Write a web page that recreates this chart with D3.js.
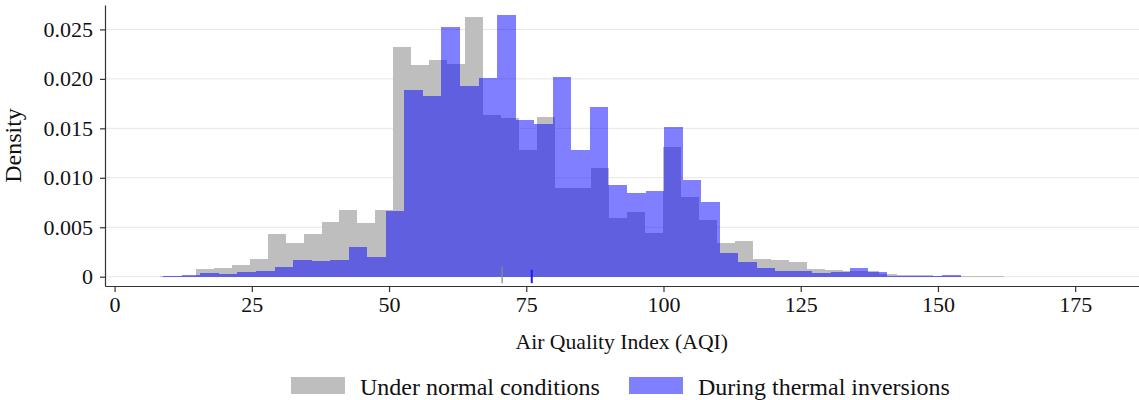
<!DOCTYPE html>
<html>
<head>
<meta charset="utf-8">
<script src="https://cdn.jsdelivr.net/npm/d3@7"></script>
<style>
  html, body { margin: 0; padding: 0; background: #fff; }
  svg { display: block; font-family: "Liberation Serif", "Times New Roman", serif; }
</style>
</head>
<body>
<svg id="chart" width="1139" height="400"></svg>
<script>
// AQI histograms (density scale), each series with its own bin origin and width
const normalStart = 8.23;
const normalWidth = 3.274;
const normalDensity = [
  0.00005, 0.0001, 0.00075, 0.00091, 0.00121, 0.00176, 0.00429, 0.00338, 0.00432, 0.00557,
  0.00675, 0.00547, 0.00672, 0.0232, 0.02142, 0.02186, 0.0215, 0.0263, 0.01636, 0.01603,
  0.01282, 0.01613, 0.00895, 0.0090, 0.01097, 0.0059, 0.00658, 0.00439, 0.0131, 0.0081,
  0.00574, 0.00338, 0.00361, 0.00175, 0.0017, 0.0015, 0.00075, 0.00068, 0.0006, 0.0006,
  0.0003, 0.0002, 0.00015, 0.00012, 0.0001, 0.00007, 0.00005
];

const inversionStart = 8.87;
const inversionWidth = 3.379;
const inversionDensity = [
  0.00007, 0.00014, 0.00034, 0.00024, 0.0005, 0.0006, 0.001, 0.00169, 0.00159, 0.00169,
  0.00297, 0.00202, 0.00665, 0.0189, 0.01822, 0.0252, 0.0193, 0.02004, 0.0265, 0.0158,
  0.01545, 0.0202, 0.0128, 0.0172, 0.00928, 0.0085, 0.0087, 0.01512, 0.00979, 0.00759,
  0.00237, 0.00147, 0.00085, 0.0006, 0.0006, 0.0004, 0.0005, 0.0009, 0.0005, 0.00005,
  0.00005, 0.00008, 0.00014
];

// Sample means, marked on the baseline
const meanNormal = 70.6;
const meanInversion = 76.0;

const xTicks = [0, 25, 50, 75, 100, 125, 150, 175];
const yTicks = [0, 0.005, 0.010, 0.015, 0.020, 0.025];

const seriesLabels = ["Under normal conditions", "During thermal inversions"];
const greyFill = "#bebebe";
const blueFill = "#0000ff";

const svg = d3.select("#chart");
const plot = { left: 105, right: 1139, top: 5, bottom: 286 };

const x = d3.scaleLinear().domain([-1.75, 186.63]).range([plot.left, plot.right]);
const y = d3.scaleLinear().domain([-0.00094, 0.02747]).range([plot.bottom, plot.top]);

// horizontal grid
svg.append("g")
  .selectAll("line")
  .data(yTicks)
  .join("line")
  .attr("x1", plot.left).attr("x2", plot.right)
  .attr("y1", d => y(d)).attr("y2", d => y(d))
  .attr("stroke", "#e6e6e6")
  .attr("stroke-width", 1);

function toBins(start, width, values) {
  return values.map((v, i) => ({ x0: start + i * width, x1: start + (i + 1) * width, v }));
}

const bars = svg.append("g");
bars.selectAll("rect.normal")
  .data(toBins(normalStart, normalWidth, normalDensity))
  .join("rect")
  .attr("class", "normal")
  .attr("x", d => x(d.x0))
  .attr("width", d => x(d.x1) - x(d.x0))
  .attr("y", d => y(d.v))
  .attr("height", d => y(0) - y(d.v))
  .attr("fill", greyFill)
  .attr("shape-rendering", "crispEdges");

bars.selectAll("rect.inv")
  .data(toBins(inversionStart, inversionWidth, inversionDensity))
  .join("rect")
  .attr("class", "inv")
  .attr("x", d => x(d.x0))
  .attr("width", d => x(d.x1) - x(d.x0))
  .attr("y", d => y(d.v))
  .attr("height", d => y(0) - y(d.v))
  .attr("fill", blueFill)
  .attr("fill-opacity", 0.5)
  .attr("shape-rendering", "crispEdges");

// mean markers
svg.append("line")
  .attr("x1", x(meanNormal)).attr("x2", x(meanNormal))
  .attr("y1", y(0.001)).attr("y2", y(-0.00065))
  .attr("stroke", "#8c8c8c").attr("stroke-width", 1.3);
svg.append("line")
  .attr("x1", x(meanInversion)).attr("x2", x(meanInversion))
  .attr("y1", y(0.0007)).attr("y2", y(-0.00065))
  .attr("stroke", "#1a1aff").attr("stroke-width", 2);

// x axis
const xAxis = svg.append("g")
  .attr("transform", `translate(0,${plot.bottom})`)
  .call(d3.axisBottom(x).tickValues(xTicks).tickSize(6).tickPadding(4).tickSizeOuter(0));
xAxis.select(".domain").attr("stroke", "#333").attr("stroke-width", 1.2);
xAxis.selectAll(".tick line").attr("stroke", "#333").attr("stroke-width", 1.2);
xAxis.selectAll("text")
  .attr("font-size", 22).attr("fill", "#111")
  .attr("font-family", "Liberation Serif, Times New Roman, serif");

// y axis
const yAxis = svg.append("g")
  .attr("transform", `translate(${plot.left},0)`)
  .call(d3.axisLeft(y).tickValues(yTicks).tickSize(5).tickPadding(7).tickSizeOuter(0)
    .tickFormat(d => d === 0 ? "0" : d3.format(".3f")(d)));
yAxis.select(".domain").attr("stroke", "#333").attr("stroke-width", 1.2);
yAxis.selectAll(".tick line").attr("stroke", "#333").attr("stroke-width", 1.2);
yAxis.selectAll("text")
  .attr("font-size", 22).attr("fill", "#111")
  .attr("font-family", "Liberation Serif, Times New Roman, serif");

// axis titles
svg.append("text")
  .attr("x", x(92.4)).attr("y", 349)
  .attr("text-anchor", "middle")
  .attr("font-size", 21.7).attr("fill", "#111")
  .text("Air Quality Index (AQI)");

svg.append("text")
  .attr("transform", `translate(21,${(plot.top + plot.bottom) / 2}) rotate(-90)`)
  .attr("text-anchor", "middle")
  .attr("font-size", 24).attr("fill", "#111")
  .text("Density");

// legend
const legend = svg.append("g");
const legendItems = [
  { label: seriesLabels[0], fill: greyFill, opacity: 1, x: 291 },
  { label: seriesLabels[1], fill: blueFill, opacity: 0.5, x: 629 }
];
legendItems.forEach(it => {
  legend.append("rect")
    .attr("x", it.x).attr("y", 377).attr("width", 54).attr("height", 17)
    .attr("fill", it.fill).attr("fill-opacity", it.opacity);
  legend.append("text")
    .attr("x", it.x + 69).attr("y", 395)
    .attr("font-size", 24).attr("fill", "#111")
    .text(it.label);
});
</script>
</body>
</html>
